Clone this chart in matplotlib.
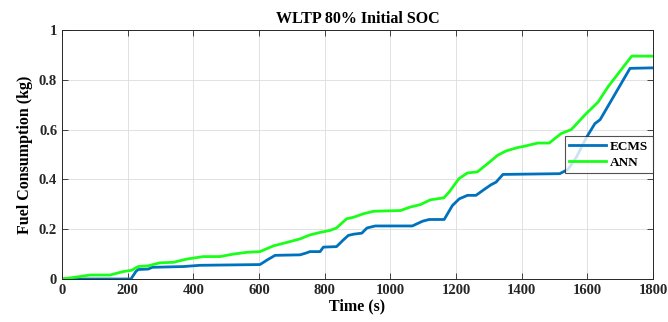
import matplotlib
matplotlib.use("Agg")
import matplotlib.pyplot as plt

t_ecms = [0, 210, 225, 232, 263, 275, 370, 420, 603, 615, 623, 649, 725, 745, 755, 786, 796, 836, 857, 872, 888, 913, 929, 954, 1067, 1098, 1118, 1164, 1189, 1210, 1235, 1261, 1282, 1306, 1322, 1343, 1516, 1541, 1567, 1598, 1623, 1639, 1730, 1800]
fc_ecms = [0, 0, 0.03, 0.038, 0.04, 0.047, 0.05, 0.055, 0.058, 0.068, 0.075, 0.095, 0.097, 0.105, 0.11, 0.11, 0.128, 0.13, 0.157, 0.175, 0.18, 0.184, 0.205, 0.213, 0.213, 0.232, 0.239, 0.239, 0.295, 0.322, 0.336, 0.336, 0.356, 0.378, 0.389, 0.42, 0.423, 0.44, 0.49, 0.57, 0.624, 0.64, 0.846, 0.848]

t_ann = [0, 45, 85, 146, 187, 212, 232, 263, 298, 339, 380, 430, 481, 522, 562, 603, 644, 685, 725, 755, 786, 816, 836, 867, 888, 918, 949, 1031, 1061, 1092, 1122, 1163, 1179, 1209, 1235, 1265, 1296, 1327, 1352, 1388, 1408, 1449, 1484, 1520, 1551, 1592, 1633, 1663, 1735, 1800]
fc_ann = [0, 0.008, 0.016, 0.016, 0.03, 0.035, 0.05, 0.053, 0.065, 0.067, 0.08, 0.09, 0.09, 0.1, 0.107, 0.11, 0.133, 0.147, 0.161, 0.177, 0.187, 0.195, 0.205, 0.242, 0.248, 0.262, 0.272, 0.275, 0.289, 0.299, 0.318, 0.326, 0.349, 0.403, 0.426, 0.43, 0.463, 0.497, 0.514, 0.528, 0.533, 0.546, 0.546, 0.584, 0.6, 0.658, 0.711, 0.772, 0.895, 0.895]

title = "WLTP 80% Initial SOC"
xlabel = "Time (s)"
ylabel = "Fuel Consumption (kg)"
xticks = [0, 200, 400, 600, 800, 1000, 1200, 1400, 1600, 1800]
yticks = [0, 0.2, 0.4, 0.6, 0.8, 1]
ytick_labels = ["0", "0.2", "0.4", "0.6", "0.8", "1"]

plt.rcParams['font.family'] = ['Liberation Serif', 'DejaVu Serif']
plt.rcParams['font.weight'] = 'bold'

fig = plt.figure(figsize=(6.68, 3.22), dpi=100)
ax = fig.add_axes([62/668, 43/322, 591/668, 249/322])
ax.plot(t_ecms, fc_ecms, color='#0072BD', lw=2, label='ECMS')
ax.plot(t_ann, fc_ann, color='#1AFF1A', lw=2, label='ANN')
ax.set_xlim(0, 1800)
ax.set_ylim(0, 1)
ax.set_xticks(xticks)
ax.set_yticks(yticks)
ax.set_yticklabels(ytick_labels)
ax.tick_params(labelsize=10.5, direction='in', length=4, width=0.6, colors='#262626', top=True, right=True)
for lab in ax.get_xticklabels() + ax.get_yticklabels():
    lab.set_fontweight('bold')
ax.grid(True, color='#dcdcdc', lw=0.6)
ax.set_axisbelow(True)
for s in ax.spines.values():
    s.set_color('#262626')
    s.set_linewidth(0.7)
ax.set_title(title, fontsize=11.5, fontweight='bold', pad=5)
ax.set_xlabel(xlabel, fontsize=11.5, fontweight='bold', labelpad=1)
ax.set_ylabel(ylabel, fontsize=11.5, fontweight='bold', labelpad=4)
leg = ax.legend(loc='center right', bbox_to_anchor=(1.0, 0.50), fontsize=9.5, frameon=True,
                fancybox=False, edgecolor='#262626', handlelength=2.8, borderpad=0.35,
                labelspacing=0.3, handletextpad=0.3, borderaxespad=0)
leg.get_frame().set_linewidth(0.8)
fig.savefig('out.png', dpi=100)
